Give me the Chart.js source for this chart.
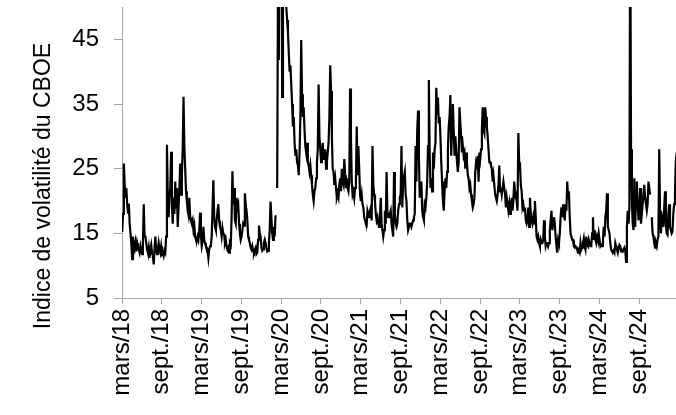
<!DOCTYPE html>
<html><head><meta charset="utf-8">
<script src="https://cdn.jsdelivr.net/npm/chart.js@4"></script>
<style>html,body{margin:0;padding:0;background:#fff}canvas{display:block}</style>
</head><body>
<canvas id="c" width="676" height="415"></canvas>
<script>
// Tick labels (x axis, every 6 months) and y ticks
const tickLabels = ['mars/18','sept./18','mars/19','sept./19','mars/20','sept./20','mars/21','sept./21','mars/22','sept./22','mars/23','sept./23','mars/24','sept./24'];
const yTickValues = [5, 15, 25, 35, 45];

// CBOE volatility index, ~8 readings per month (null = missing data)
const vix2018 = [
 15.2, 18.0, 25.8, 22.5,
 20.5, 22.0, 19.5, 18.2, 19.6, 16.5, 15.0, 13.5,
 11.0, 14.5, 13.0, 12.5, 13.5, 12.2, 13.5, 12.8,
 12.5, 12.0, 13.0, 12.3, 11.8, 13.5, 19.5, 14.5,
 14.5, 13.5, 12.5, 12.0, 12.8, 11.2, 12.5, 13.2,
 12.0, 11.5, 10.2, 12.5, 14.5, 12.5, 11.8, 12.5,
 13.5, 12.5, 12.0, 13.0, 11.8, 12.0, 11.5, 12.3,
 12.0, 14.5, 28.7, 21.0, 17.5, 20.5, 22.0, 27.6,
 19.5, 16.5, 20.5, 18.0, 23.0, 19.0, 22.0, 16.0,
 19.0, 22.0, 25.8, 21.0, 24.0, 28.0, 36.1, 28.5
];
const vix2019 = [
 25.0, 21.5, 20.0, 18.5, 17.8, 20.5, 17.5, 17.0,
 16.5, 17.0, 15.5, 16.2, 14.5, 14.0, 13.8, 14.5,
 14.0, 15.5, 18.2, 14.5, 13.0, 13.7, 16.0, 14.0,
 13.5, 13.0, 12.8, 12.4, 11.2, 12.5, 13.0, 13.2,
 14.5, 19.0, 23.2, 17.5, 16.0, 15.5, 17.0, 18.5,
 19.5, 17.0, 16.0, 15.5, 14.5, 15.8, 15.0, 14.8,
 13.5, 14.0, 13.0, 12.5, 12.8, 12.0, 13.5, 13.2,
 17.5, 24.6, 19.5, 22.0, 17.0, 16.5, 20.5, 19.0,
 19.5, 16.5, 15.0, 14.0, 14.5, 15.5, 16.5, 16.2,
 21.2, 19.5, 18.5, 17.0, 14.5, 14.0, 13.5, 12.8,
 12.5, 13.0, 12.2, 12.0, 12.5, 12.8, 11.8, 12.0,
 14.0, 16.2, 15.0, 14.5, 12.8, 12.3, 12.5, 13.5
];
const vix2020 = [
 14.0, 13.5, 12.8, 12.2, 12.3, 13.5, 15.5, 19.9,
 17.5, 15.0, 14.0, 16.0, 14.5, 17.8, null, 22.0,
 55.0, 41.8, 70.0, 80.0, 75.0, 36.1, 65.0, 58.0,
 55.0, 52.0, 50.0, 48.0, 46.0, 43.0, 40.0, 41.0,
 38.0, 35.0, 31.5, 33.0, 29.0, 27.0, 28.0, 26.0,
 25.5, 24.0, 27.5, 33.0, 44.9, 36.5, 33.0, 34.5,
 31.0, 28.5, 27.5, 29.0, 26.0, 25.5, 24.5, 25.5,
 24.0, 22.5, 21.0, 20.0, 21.5, 22.0, 23.5, 26.0,
 28.0, 38.0, 30.0, 28.0, 26.0, 27.5, 29.0, 26.5,
 26.5, 28.0, 25.0, 26.0, 27.5, 29.0, 33.0, 41.0,
 37.0, 30.0, 25.0, 24.5, 22.5, 23.5, 22.0, 20.5,
 21.0, 20.5, 22.5, 23.5, 21.5, 25.0, 23.0, 22.5
];
const vix2021 = [
 26.5, 24.0, 22.0, 23.5, 22.0, 21.5, 23.0, 37.4,
 30.0, 23.0, 21.0, 21.5, 20.5, 22.0, 23.0, 31.5,
 24.0, 28.5, 25.0, 21.0, 20.0, 21.0, 19.5, 19.0,
 17.5, 17.0, 16.5, 16.3, 18.5, 18.0, 17.5, 18.5,
 19.0, 17.0, 28.5, 22.5, 21.0, 20.0, 18.0, 17.0,
 17.5, 16.5, 16.0, 17.5, 20.5, 16.5, 15.5, 14.5,
 15.5, 18.5, 16.5, 24.5, 18.5, 17.5, 17.5, 18.0,
 18.5, 16.5, 15.5, 14.5, 24.5, 18.0, 16.5, 16.0,
 16.5, 18.5, 19.5, 20.5, 21.0, 28.5, 19.0, 23.0,
 23.0, 24.5, 21.0, 20.0, 17.0, 15.5, 15.5, 16.5,
 16.5, 16.0, 16.5, 17.0, 17.5, 18.0, 28.5, 23.0,
 31.0, 34.0, 27.0, 20.5, 22.0, 23.0, 18.5, 17.5
];
const vix2022 = [
 17.0, 19.5, 19.0, 20.5, 23.0, 28.5, 38.7, 27.5,
 22.0, 23.5, 21.5, 27.5, 25.0, 28.0, 29.0, 37.5,
 33.5, 36.0, 32.0, 33.0, 30.0, 26.0, 23.0, 20.0,
 18.5, 21.5, 23.5, 22.0, 24.5, 28.0, 31.5, 33.0,
 36.4, 27.0, 31.5, 35.0, 31.0, 27.0, 30.0, 28.0,
 26.0, 24.5, 26.0, 34.5, 32.0, 30.0, 27.5, 28.5,
 27.0, 27.5, 25.0, 27.5, 26.0, 24.0, 23.5, 22.0,
 22.5, 21.0, 20.0, 19.0, 19.5, 20.5, 24.5, 26.0,
 25.5, 27.0, 23.0, 27.5, 26.5, 28.0, 31.0, 34.5,
 31.0, 30.5, 34.5, 33.0, 31.5, 30.0, 28.0, 26.0,
 26.0, 25.5, 25.0, 23.0, 24.0, 22.5, 21.0, 20.5,
 20.0, 21.0, 22.5, 25.5, 21.5, 22.0, 21.0, 22.0
];
const vix2023 = [
 23.0, 22.0, 21.0, 19.0, 20.5, 19.5, 18.5, 19.5,
 18.0, 19.5, 20.5, 18.5, 20.0, 23.0, 21.5, 20.5,
 20.0, 18.5, 30.5, 26.0, 25.5, 22.5, 21.5, 19.0,
 19.5, 18.5, 19.0, 17.0, 16.5, 17.0, 19.0, 16.0,
 20.5, 18.0, 17.0, 16.5, 17.5, 16.5, 20.0, 17.5,
 14.5, 14.0, 14.5, 13.5, 13.0, 14.0, 13.5, 13.5,
 14.0, 17.0, 14.5, 13.0, 13.5, 13.5, 13.0, 13.5,
 15.5, 17.0, 18.5, 15.5, 16.5, 17.5, 16.5, 14.5,
 13.0, 12.0, 14.0, 13.5, 15.0, 17.5, 19.0, 17.5,
 19.5, 18.0, 17.0, 19.5, 18.5, 23.0, 20.5, 21.5,
 17.5, 15.0, 14.5, 14.0, 14.0, 13.0, 12.8, 13.0,
 12.8, 12.5, 12.0, 12.3, 12.0, 13.5, 12.5, 12.8
];
const vix2024 = [
 13.5, 14.2, 13.0, 12.5, 14.5, 13.2, 13.0, 14.0,
 13.5, 13.0, 13.0, 15.0, 17.5, 14.0, 15.5, 14.0,
 13.5, 14.5, 14.0, 15.0, 14.0, 13.0, 13.2, 13.0,
 13.5, 16.0, 14.5, 17.5, 18.5, 21.2, 16.0, 15.5,
 15.0, 13.5, 12.5, 12.5, 12.0, 12.3, 12.0, 13.5,
 13.0, 12.5, 12.0, 12.7, 13.2, 13.0, 12.2, 12.4,
 12.2, 12.5, 12.8, 12.4, 10.6, 16.0, 18.5, 16.5,
 19.0, 65.0, 28.0, 20.0, 16.5, 15.5, 23.5, 16.0,
 21.0, 23.0, 19.5, 17.0, 18.0, 22.0, 16.5, 18.0,
 19.5, 21.0, 22.5, 20.5, 19.5, 18.5, 19.5, 23.0,
 22.0, 21.0, null, 17.5, 15.0, 14.5, 13.5, 12.8,
 13.5, 13.0, 14.0, 14.5, 28.0, 18.5, 15.0, 17.0
];
const vix2025 = [
 17.5, 16.0, 19.0, 21.5, 16.5, 15.0, 14.8, 18.0,
 19.5, 16.0, 15.5, 15.0, 15.3, 18.0, 19.5, 21.0,
 26.0, 27.5
];

// month index counted from March 2018; readings are 1/8 month apart
const series = [
  { startMonth: 0,  startSub: 4, values: vix2018 },
  { startMonth: 10, startSub: 0, values: vix2019 },
  { startMonth: 22, startSub: 0, values: vix2020 },
  { startMonth: 34, startSub: 0, values: vix2021 },
  { startMonth: 46, startSub: 0, values: vix2022 },
  { startMonth: 58, startSub: 0, values: vix2023 },
  { startMonth: 70, startSub: 0, values: vix2024 },
  { startMonth: 82, startSub: 0, values: vix2025 }
];
const points = [];
series.forEach(s => s.values.forEach((v, i) => points.push({ x: s.startMonth + (s.startSub + i) / 8, y: v })));

const FONT = "'Liberation Sans', Arial, Helvetica, sans-serif";
const AXIS_START = 0.47, AXIS_END = 84.03;

const yTitlePlugin = {
  id: 'yTitle',
  afterDraw(chart) {
    const ctx = chart.ctx;
    ctx.save();
    ctx.translate(50, 186);
    ctx.rotate(-Math.PI / 2);
    ctx.font = '23px ' + FONT;
    ctx.fillStyle = '#000';
    ctx.textAlign = 'center';
    ctx.textBaseline = 'alphabetic';
    ctx.fillText('Indice de volatilité du CBOE', 0, 0);
    ctx.restore();
  }
};

new Chart(document.getElementById('c'), {
  type: 'line',
  data: { datasets: [{
    data: points, borderColor: '#000', borderWidth: 2.2, pointRadius: 0,
    fill: false, tension: 0, spanGaps: false, clip: 0
  }] },
  options: {
    responsive: false, animation: false, devicePixelRatio: 1,
    layout: { padding: { top: 7, left: 0, right: 0, bottom: 0 } },
    plugins: { legend: { display: false }, tooltip: { enabled: false } },
    scales: {
      x: {
        type: 'linear', min: AXIS_START, max: AXIS_END,
        afterBuildTicks: s => { s.ticks = tickLabels.map((l, i) => ({ value: AXIS_START + 6 * i })); },
        afterFit: s => { s.height = 117; s.paddingLeft = 0; s.paddingRight = 0; },
        ticks: { autoSkip: false, minRotation: 90, maxRotation: 90, padding: 5, color: '#000',
                 font: { size: 24, family: FONT }, callback: (v, i) => tickLabels[i] },
        grid: { drawOnChartArea: false, drawTicks: true, tickLength: 6, color: '#a6a6a6' },
        border: { color: '#a6a6a6', width: 1 }
      },
      y: {
        min: 5, max: 50,
        afterBuildTicks: s => { s.ticks = yTickValues.map(v => ({ value: v })); },
        afterFit: s => { s.width = 122; s.paddingTop = 0; s.paddingBottom = 0; },
        ticks: { padding: 15, color: '#000', font: { size: 24, family: FONT }, callback: v => String(v) },
        grid: { drawOnChartArea: false, drawTicks: true, tickLength: 8, color: '#a6a6a6' },
        border: { color: '#a6a6a6', width: 1 }
      }
    }
  },
  plugins: [yTitlePlugin]
});
</script>
</body></html>
